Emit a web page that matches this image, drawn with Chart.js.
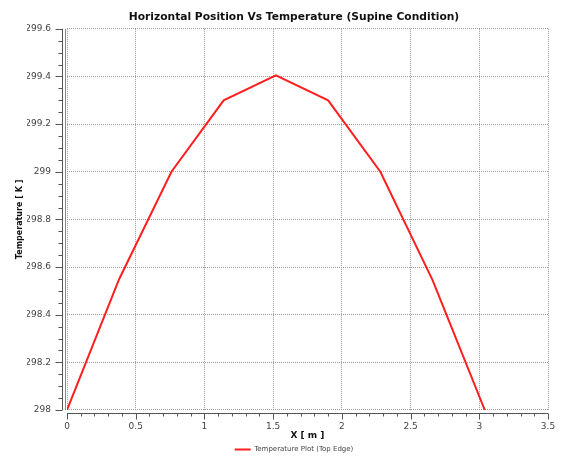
<!DOCTYPE html>
<html>
<head>
    <title>Horizontal Position Vs Temperature</title>
    <script src="https://cdn.jsdelivr.net/npm/chart.js"></script>
    <style>
        body { margin: 0; background: #fff; }
    </style>
</head>
<body>
    <canvas id="tempChart" width="561" height="457"></canvas>

    <script>
        // values
        const xPositions = [0, 0.38, 0.76, 1.14, 1.52, 1.9, 2.28, 2.66, 3.04];
        const temperatures = [298.0, 298.55, 299.0, 299.3, 299.405, 299.3, 299.0, 298.545, 298.0];
        const xTickLabels = ['0', '0.5', '1', '1.5', '2', '2.5', '3', '3.5'];
        const yTickLabels = ['298', '298.2', '298.4', '298.6', '298.8', '299', '299.2', '299.4', '299.6'];
        const xMinorStep = 0.1;
        const yMinorStep = 0.05;

        Chart.defaults.font.family = "'DejaVu Sans', Verdana, sans-serif";

        // axis lines with major/minor ticks, drawn a few px away from the plot like the original
        const axisDecor = {
            id: 'axisDecor',
            afterDraw(chart) {
                const { ctx, chartArea: a, scales: { x, y } } = chart;
                ctx.save();
                ctx.strokeStyle = '#555';
                ctx.lineWidth = 1;
                ctx.beginPath();

                const ax = a.left - 4.5;
                ctx.moveTo(ax, a.top);
                ctx.lineTo(ax, a.bottom);
                const ny = Math.round((y.max - y.min) / yMinorStep);
                for (let i = 0; i <= ny; i++) {
                    const py = Math.round(y.getPixelForValue(y.min + i * yMinorStep)) + 0.5;
                    const len = i % 4 === 0 ? 7 : 4;
                    ctx.moveTo(ax - len, py);
                    ctx.lineTo(ax, py);
                }

                const ay = a.bottom + 3.5;
                ctx.moveTo(a.left, ay);
                ctx.lineTo(a.right, ay);
                const nx = Math.round((x.max - x.min) / xMinorStep);
                for (let i = 0; i <= nx; i++) {
                    const px = Math.round(x.getPixelForValue(x.min + i * xMinorStep)) + 0.5;
                    const len = i % 5 === 0 ? 6 : 3;
                    ctx.moveTo(px, ay);
                    ctx.lineTo(px, ay + len);
                }
                ctx.stroke();

                // solid edge next to the x=0 grid line
                ctx.strokeStyle = '#888';
                ctx.beginPath();
                ctx.moveTo(a.left - 1.5, a.top);
                ctx.lineTo(a.left - 1.5, a.bottom);
                ctx.stroke();
                ctx.restore();
            }
        };

        const ctx = document.getElementById('tempChart').getContext('2d');
        new Chart(ctx, {
            type: 'scatter',
            data: {
                datasets: [{
                    label: 'Temperature Plot (Top Edge)',
                    data: xPositions.map((v, i) => ({ x: v, y: temperatures[i] })),
                    showLine: true,
                    borderColor: '#ff1f1f',
                    backgroundColor: '#ff1f1f',
                    borderWidth: 2,
                    pointRadius: 0,
                    tension: 0
                }]
            },
            options: {
                responsive: false,
                animation: false,
                layout: { padding: { left: 27, right: 0, top: 0, bottom: 0 } },
                plugins: {
                    title: {
                        display: true,
                        text: 'Horizontal Position Vs Temperature (Supine Condition)',
                        color: '#111',
                        font: { size: 10.7, weight: 'bold' },
                        padding: { top: 11, bottom: 5 }
                    },
                    legend: {
                        position: 'bottom',
                        maxHeight: 16,
                        labels: {
                            boxWidth: 16,
                            boxHeight: 0,
                            padding: 5,
                            color: '#444',
                            font: { size: 7 }
                        }
                    },
                    tooltip: { enabled: false }
                },
                scales: {
                    x: {
                        type: 'linear',
                        min: 0,
                        max: 3.5,
                        afterFit: s => { s.height = 31; s.paddingRight = 13; },
                        ticks: {
                            stepSize: 0.5,
                            padding: 11,
                            color: '#444',
                            font: { size: 9 },
                            callback: (v, i) => xTickLabels[i]
                        },
                        grid: { color: '#999', drawTicks: false },
                        border: { display: false, dash: [1, 1] },
                        title: {
                            display: true,
                            text: 'X [ m ]',
                            color: '#111',
                            font: { size: 9, weight: 'bold' },
                            padding: { top: 0, bottom: 0 }
                        }
                    },
                    y: {
                        min: 298,
                        max: 299.6,
                        afterFit: s => { s.width = 40; },
                        ticks: {
                            stepSize: 0.2,
                            padding: 16,
                            color: '#444',
                            font: { size: 9 },
                            callback: (v, i) => yTickLabels[i]
                        },
                        grid: { color: '#999', drawTicks: false },
                        border: { display: false, dash: [1, 1] },
                        title: {
                            display: true,
                            text: 'Temperature [ K ]',
                            color: '#111',
                            font: { size: 8, weight: 'bold' },
                            padding: { top: -12, bottom: 0 }
                        }
                    }
                }
            },
            plugins: [axisDecor]
        });
    </script>
</body>
</html>
